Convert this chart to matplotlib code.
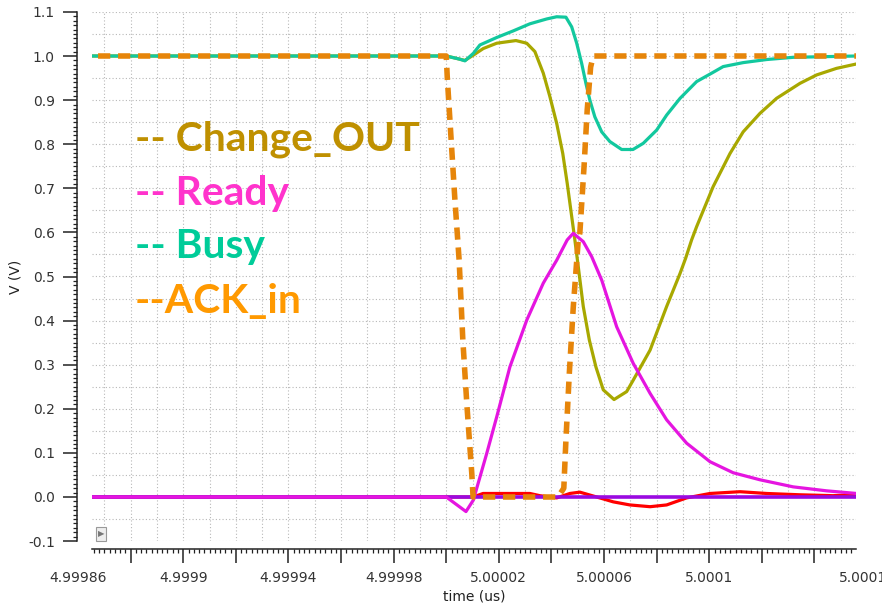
import numpy as np
import matplotlib
matplotlib.use("Agg")
import matplotlib.pyplot as plt
from matplotlib.ticker import MultipleLocator, FixedLocator, FixedFormatter

# time in us, voltage in V
t_ack = [4.99986, 5.0, 5.0000004, 5.0000017, 5.0000033, 5.0000049, 5.0000063,
         5.0000079, 5.0000097, 5.0000102, 5.0000425, 5.0000447, 5.0000455,
         5.0000468, 5.0000483, 5.0000502, 5.0000508, 5.0000524, 5.0000536,
         5.0000549, 5.0000559, 5.000156]
v_ack = [1.0, 1.0, 0.95, 0.825, 0.673, 0.537, 0.356, 0.204, 0.054, 0.0, 0.0,
         0.02, 0.129, 0.281, 0.431, 0.583, 0.599, 0.75, 0.878, 0.975, 1.0, 1.0]

t_busy = [4.99986, 5.0, 5.000005, 5.0000071, 5.0000103, 5.0000128, 5.0000192,
          5.0000255, 5.0000318, 5.0000382, 5.000042, 5.0000455, 5.0000477,
          5.0000496, 5.0000515, 5.0000531, 5.0000546, 5.0000565, 5.0000591,
          5.0000622, 5.0000667, 5.000071, 5.0000749, 5.00008, 5.0000838,
          5.0000889, 5.0000952, 5.0001003, 5.0001053, 5.0001129, 5.0001218,
          5.0001319, 5.000156]
v_busy = [1.0, 1.0, 0.993, 0.989, 1.006, 1.025, 1.042, 1.057, 1.073, 1.084,
          1.089, 1.088, 1.066, 1.029, 0.983, 0.938, 0.9, 0.862, 0.828, 0.806,
          0.788, 0.788, 0.802, 0.832, 0.866, 0.904, 0.942, 0.959, 0.976, 0.985,
          0.992, 0.997, 1.0]

t_change = [4.99986, 5.0, 5.000005, 5.0000071, 5.0000103, 5.0000141, 5.0000192,
            5.0000265, 5.0000306, 5.0000337, 5.0000369, 5.0000394, 5.000042,
            5.0000443, 5.000046, 5.0000477, 5.0000489, 5.0000502, 5.0000521,
            5.0000544, 5.0000569, 5.0000597, 5.0000638, 5.0000686, 5.0000711,
            5.0000775, 5.0000838, 5.0000889, 5.000091, 5.0000933, 5.0000952,
            5.0001015, 5.0001079, 5.0001129, 5.0001193, 5.0001256, 5.0001345,
            5.0001408, 5.0001484, 5.000156]
v_change = [1.0, 1.0, 0.993, 0.99, 1.002, 1.017, 1.029, 1.035, 1.029, 1.01,
            0.961, 0.908, 0.847, 0.779, 0.711, 0.636, 0.583, 0.522, 0.432,
            0.356, 0.295, 0.243, 0.221, 0.239, 0.265, 0.333, 0.432, 0.507,
            0.541, 0.583, 0.613, 0.704, 0.779, 0.828, 0.87, 0.904, 0.938,
            0.957, 0.972, 0.982]

t_ready = [4.99986, 5.0, 5.0000075, 5.0000103, 5.0000154, 5.0000192, 5.0000242,
           5.0000306, 5.0000369, 5.000042, 5.000046, 5.0000483, 5.0000521,
           5.0000553, 5.0000591, 5.0000648, 5.0000711, 5.0000775, 5.0000838,
           5.0000914, 5.0001003, 5.0001091, 5.0001193, 5.0001319, 5.0001446,
           5.000156]
v_ready = [0.0, 0.0, -0.033, -0.007, 0.099, 0.182, 0.295, 0.401, 0.485, 0.537,
           0.583, 0.598, 0.579, 0.545, 0.492, 0.386, 0.303, 0.235, 0.175,
           0.122, 0.08, 0.055, 0.039, 0.023, 0.014, 0.008]

t_red = [4.99986, 5.0000102, 5.000014, 5.0000318, 5.0000356, 5.000042, 5.000047,
         5.0000508, 5.0000572, 5.0000635, 5.0000698, 5.0000775, 5.0000838,
         5.0000914, 5.0001003, 5.0001117, 5.0001218, 5.0001345, 5.000147,
         5.000156]
v_red = [0.0, 0.0, 0.008, 0.008, 0.003, -0.002, 0.008, 0.011, 0.0, -0.011,
         -0.018, -0.022, -0.018, -0.002, 0.008, 0.012, 0.008, 0.005, 0.003,
         0.005]

t_purple = [4.99986, 5.000156]
v_purple = [0.0, 0.0]

x_major = [4.99988, 4.9999, 4.99992, 4.99994, 4.99996, 4.99998, 5.0, 5.00002,
           5.00004, 5.00006, 5.00008, 5.0001, 5.00012, 5.00014]
x_labels = ["", "4.9999", "", "4.99994", "", "4.99998", "", "5.00002",
            "", "5.00006", "", "5.0001", "", ""]
y_major = [-0.1, 0.0, 0.1, 0.2, 0.3, 0.4, 0.5, 0.6, 0.7, 0.8, 0.9, 1.0, 1.1]

legend_labels = ["-- Change_OUT", "-- Ready", "-- Busy", "--ACK_in"]
legend_colors = ["#BF9000", "#FF33CC", "#00CC99", "#FF9900"]

plt.rcParams["axes.unicode_minus"] = False
plt.rcParams["font.family"] = "DejaVu Sans"

W, H = 882, 608
fig = plt.figure(figsize=(W / 100, H / 100), dpi=100)
fig.patch.set_facecolor("white")
ax = fig.add_axes([92 / W, (H - 541.1) / H, (856 - 92) / W, (541.1 - 11.9) / H])
ax.set_xlim(4.9998653, 5.0001558)
ax.set_ylim(-0.1, 1.1)

# dotted grid: 0.05 V / 10 ps
for gy in np.arange(-0.1, 1.1001, 0.05):
    ax.axhline(gy, color="#b8b8b8", lw=0.8, ls=(0, (1, 2)), zorder=0)
for gx in np.arange(4.99987, 5.000156, 0.00001):
    ax.axvline(gx, color="#b8b8b8", lw=0.8, ls=(0, (1, 2)), zorder=0)

ax.plot(t_red, v_red, color="#FF0000", lw=2.3, zorder=2)
ax.plot(t_purple, v_purple, color="#9A0AE0", lw=2.6, zorder=3)
ax.plot(t_change, v_change, color="#A8A800", lw=2.3, zorder=4)
ax.plot(t_ready, v_ready, color="#E515E0", lw=2.3, zorder=5)
ax.plot(t_busy, v_busy, color="#12C89E", lw=2.3, zorder=6)
ax.plot(t_ack, v_ack, color="#E6850A", lw=4.0, ls=(0, (2.2, 1.4)), zorder=7)

for s in ["top", "right"]:
    ax.spines[s].set_visible(False)
ax.spines["left"].set_position(("outward", 10.8))
ax.spines["bottom"].set_position(("outward", 5.8))
for s in ["left", "bottom"]:
    ax.spines[s].set_linewidth(1.1)
    ax.spines[s].set_color("#222222")

ax.xaxis.set_major_locator(FixedLocator(x_major))
ax.xaxis.set_major_formatter(FixedFormatter(x_labels))
ax.xaxis.set_minor_locator(MultipleLocator(0.000002))
ax.yaxis.set_major_locator(FixedLocator(y_major))
ax.yaxis.set_major_formatter(FixedFormatter([f"{v:.1f}" for v in y_major]))
ax.yaxis.set_minor_locator(MultipleLocator(0.01))
ax.tick_params(which="major", length=10, width=1.1, color="#222222",
               labelsize=10, labelcolor="#333333", pad=6)
ax.tick_params(which="minor", length=3, width=0.9, color="#222222")

# labels the viewer draws outside the plotted window
lab_kw = dict(fontsize=10, color="#333333", ha="center", va="top",
              annotation_clip=False)
ax.annotate("4.99986", xy=(4.99986, 0), xycoords=ax.get_xaxis_transform(),
            xytext=(0, -21.8), textcoords="offset points", **lab_kw)
ax.annotate("5.00014", xy=(1.0144, 0), xycoords="axes fraction",
            xytext=(0, -21.8), textcoords="offset points", **lab_kw)

ax.set_xlabel("time (us)", fontsize=10, color="#222222", labelpad=3)
ax.set_ylabel("V (V)", fontsize=10, color="#222222", labelpad=4)

# small play button in the lower left corner
ax.text(0.0118, 0.0134, "\u25B6", transform=ax.transAxes, fontsize=6,
        color="#777777", ha="center", va="center", zorder=8,
        bbox=dict(boxstyle="square,pad=0.25", fc="#eeeeee", ec="#999999", lw=0.8))

legend_y = [150, 205, 258, 313]
for lab, col, py in zip(legend_labels, legend_colors, legend_y):
    fig.text(135 / W, 1 - py / H, lab, color=col, fontsize=29.4,
             fontweight="bold", family=["Lato", "DejaVu Sans"], va="baseline")

fig.savefig("out.png", dpi=100, facecolor="white")
